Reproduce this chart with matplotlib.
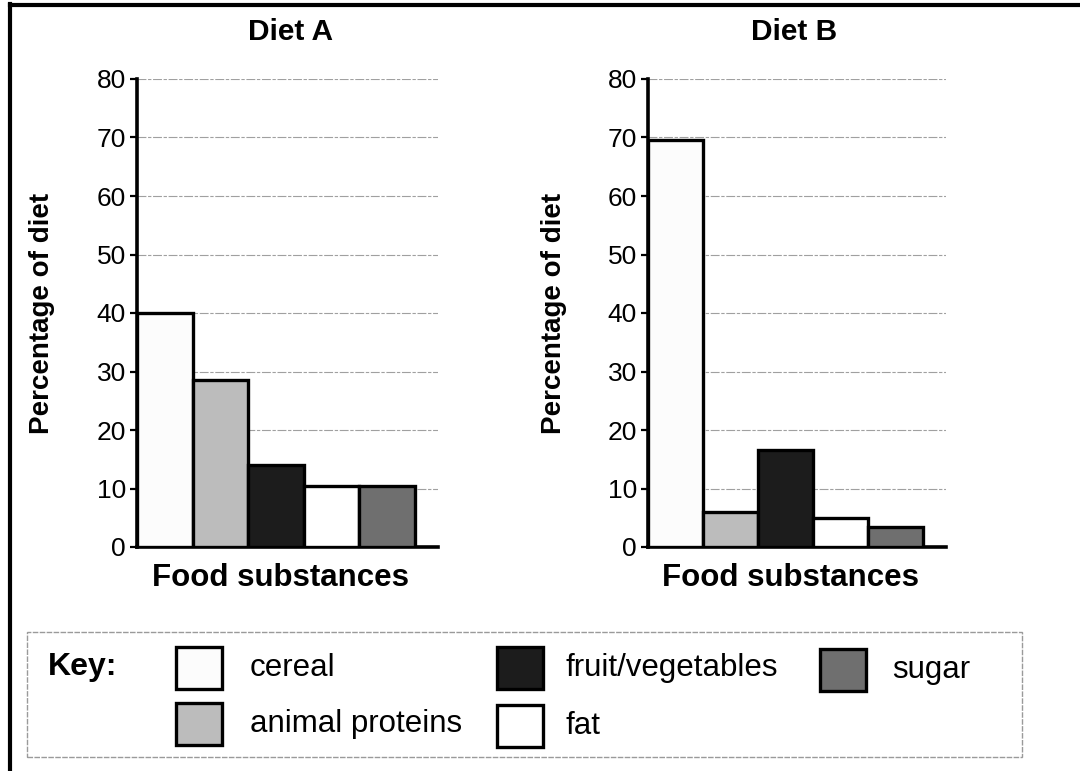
import matplotlib
matplotlib.use("Agg")
import matplotlib.pyplot as plt
from matplotlib.patches import Rectangle
from matplotlib.lines import Line2D

plt.rcParams['font.family'] = ['Liberation Sans', 'DejaVu Sans']

categories = ["cereal", "animal proteins", "fruit/vegetables", "fat", "sugar"]
diet_a = [40, 28.5, 14, 10.5, 10.5]
diet_b = [69.5, 6, 16.5, 5, 3.5]
yticks = [0, 10, 20, 30, 40, 50, 60, 70, 80]
colors = ["#fcfcfc", "#bcbcbc", "#1c1c1c", "#ffffff", "#6f6f6f"]

W, H = 1080, 771
fig = plt.figure(figsize=(W / 100, H / 100), dpi=100)


def fx(px):
    return px / W


def fy(py):
    return 1 - py / H


def draw_panel(left, right, values, title, title_x):
    ax = fig.add_axes([fx(left), fy(547), fx(right) - fx(left), fy(79) - fy(547)])
    x = list(range(len(values)))
    ax.bar(x, values, width=1.0, color=colors, edgecolor="black", linewidth=2.4, zorder=3)
    ax.set_xlim(-0.5, 4.92)
    ax.set_ylim(0, 80)
    ax.set_yticks(yticks)
    ax.set_yticklabels([str(t) for t in yticks], fontsize=19)
    ax.set_xticks([])
    for t in yticks[1:]:
        ax.axhline(t, color="#a0a0a0", lw=0.8, ls=(0, (8, 1.5, 3, 1.5)), zorder=1)
    for s in ["top", "right"]:
        ax.spines[s].set_visible(False)
    ax.spines["left"].set_linewidth(2.6)
    ax.spines["bottom"].set_linewidth(2.6)
    ax.tick_params(axis="y", length=5, width=1.6, pad=3)
    ax.set_ylabel("Percentage of diet", fontsize=20, fontweight="bold")
    ax.yaxis.set_label_coords(-0.272, 0.5)
    ax.text(0.478, -0.067, "Food substances", transform=ax.transAxes, ha="center",
            va="center", fontsize=22.5, fontweight="bold")
    fig.text(fx(title_x), fy(32), title, ha="center", va="center", fontsize=21.5,
             fontweight="bold")
    return ax


draw_panel(137, 438, diet_a, "Diet A", 291)
draw_panel(648, 946, diet_b, "Diet B", 794)

# outer frame lines
fig.add_artist(Line2D([fx(10), fx(10)], [fy(4), 0], color="black", lw=3, transform=fig.transFigure))
fig.add_artist(Line2D([fx(10), 1], [fy(5), fy(5)], color="black", lw=3, transform=fig.transFigure))

# key box
fig.add_artist(Rectangle((fx(27), fy(757)), fx(1022) - fx(27), fy(632) - fy(757),
                         transform=fig.transFigure, fill=False, edgecolor="#9a9a9a",
                         lw=1.0, ls=(0, (4, 1))))
fig.text(fx(48), fy(667), "Key:", fontsize=23, fontweight="bold", va="center", ha="left")

key_pos = [(176, 668, 250), (176, 724, 250), (497, 668, 565), (497, 726, 565), (820, 670, 892)]
for i, (cat, (sx, sy, tx)) in enumerate(zip(categories, key_pos)):
    fig.add_artist(Rectangle((fx(sx), fy(sy + 21)), fx(46), 42 / H,
                             transform=fig.transFigure, facecolor=colors[i],
                             edgecolor="black", lw=2.4))
    fig.text(fx(tx), fy(sy), cat, fontsize=22.5, va="center", ha="left")

fig.savefig("out.png", dpi=100)
